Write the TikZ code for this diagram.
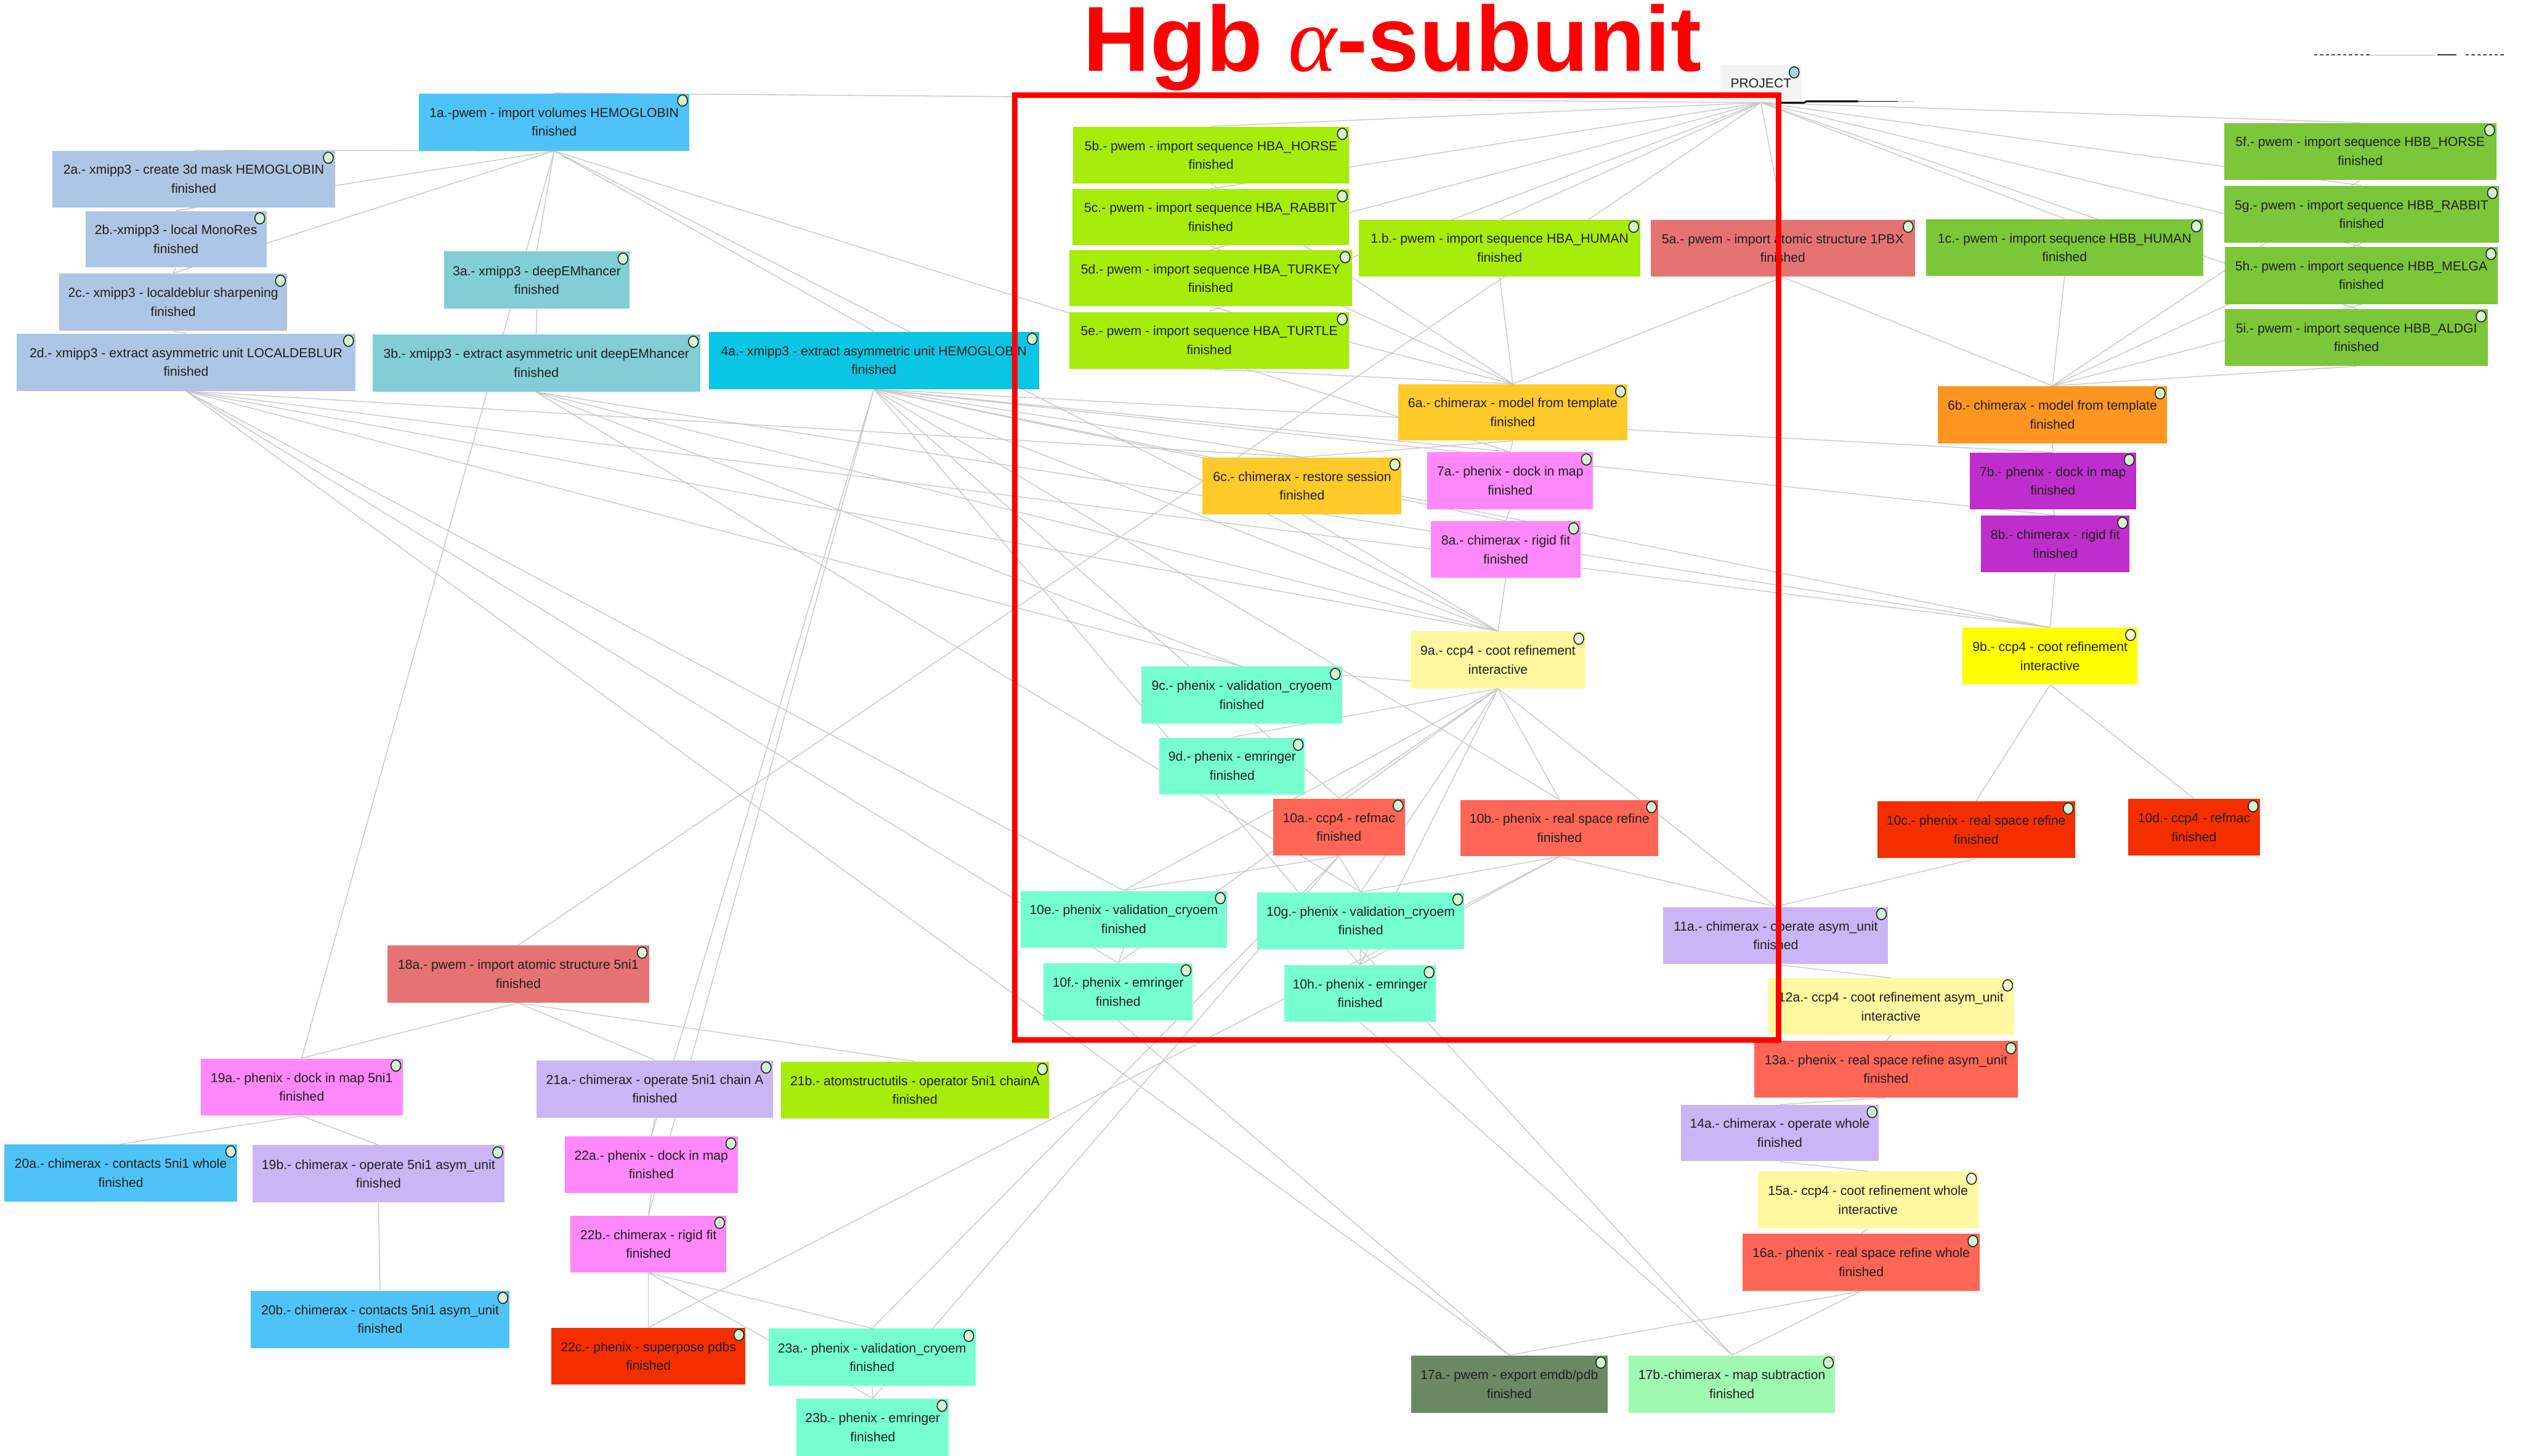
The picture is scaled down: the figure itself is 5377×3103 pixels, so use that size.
\documentclass[tikz,border=0pt]{standalone}
\usepackage{fontspec}
\setmainfont{Liberation Sans}
\newfontfamily\titleserif{Liberation Serif}
\usetikzlibrary{backgrounds,calc,shapes.geometric}

\definecolor{cblue}{HTML}{4FC3F7}
\definecolor{csteel}{HTML}{ADC6E5}
\definecolor{cteal}{HTML}{82CDD6}
\definecolor{ccyan}{HTML}{0AC5E3}
\definecolor{clime}{HTML}{A8EC0B}
\definecolor{csalmon}{HTML}{E57373}
\definecolor{cgreen}{HTML}{7CC63A}
\definecolor{camber}{HTML}{FFCA2A}
\definecolor{corange}{HTML}{FF9620}
\definecolor{cpink}{HTML}{FF88FB}
\definecolor{cpurple}{HTML}{BF2ECC}
\definecolor{cpale}{HTML}{FFF8A0}
\definecolor{cyellow}{HTML}{FFFF00}
\definecolor{caqua}{HTML}{76FFD0}
\definecolor{ctomato}{HTML}{FF6655}
\definecolor{cred}{HTML}{F52E00}
\definecolor{clav}{HTML}{CAB5F5}
\definecolor{colive}{HTML}{6B8A63}
\definecolor{cmint}{HTML}{A0F9B0}
\definecolor{cproj}{HTML}{F4F4F4}
\definecolor{dotfinc}{HTML}{D5F5D1}
\definecolor{dotintc}{HTML}{F3F5DC}
\definecolor{dotprojc}{HTML}{A9D3E3}

\tikzset{
  jobbox/.style={rectangle, inner sep=0pt, align=center,
    font=\fontsize{7.9}{11.4}\selectfont, text=black!88},
  edge/.style={draw=black!22, line width=0.5pt},
  dotbase/.style={ellipse, draw=black!85, line width=0.6pt, inner sep=0pt,
    minimum width=0.21cm, minimum height=0.24cm},
  dotfin/.style={dotbase, fill=dotfinc},
  dotint/.style={dotbase, fill=dotintc},
  dotproj/.style={dotbase, fill=dotprojc},
  frame/.style={draw=red, line width=3.4pt},
}

\newcommand\jobnode[8]{%
  \node[jobbox, fill=#6, minimum width={(#4-#2)*0.01cm}, minimum height={(#5-#3)*0.01cm}]
    (#1) at ({(#2+#4)/2},{(#3+#5)/2}) {#7\\#8};
}

\begin{document}
\begin{tikzpicture}[x=0.01cm,y=-0.01cm]
\useasboundingbox (0,0) rectangle (5377,3103);

% ---- project node
\node[jobbox, fill=cproj, minimum width=1.74cm, minimum height=0.8cm] (proj) at (3753,178) {PROJECT};

% ---- jobs
\jobnode{p1a}{893}{199}{1469}{321}{cblue}{1a.-pwem - import volumes HEMOGLOBIN}{finished}
\jobnode{p2a}{112}{321}{714}{442}{csteel}{2a.- xmipp3 - create 3d mask HEMOGLOBIN}{finished}
\jobnode{p2b}{182}{450}{568}{570}{csteel}{2b.-xmipp3 - local MonoRes}{finished}
\jobnode{p2c}{126}{583}{612}{705}{csteel}{2c.- xmipp3 - localdeblur sharpening}{finished}
\jobnode{p2d}{36}{711}{757}{833}{csteel}{2d.- xmipp3 - extract asymmetric unit LOCALDEBLUR}{finished}
\jobnode{p3a}{946}{536}{1342}{658}{cteal}{3a.- xmipp3 - deepEMhancer}{finished}
\jobnode{p3b}{794}{713}{1492}{835}{cteal}{3b.- xmipp3 - extract asymmetric unit deepEMhancer}{finished}
\jobnode{p4a}{1511}{707}{2214}{829}{ccyan}{4a.- xmipp3 - extract asymmetric unit HEMOGLOBIN}{finished}
\jobnode{p5b}{2287}{270}{2875}{391}{clime}{5b.- pwem - import sequence HBA\_HORSE}{finished}
\jobnode{p5c}{2285}{403}{2875}{523}{clime}{5c.- pwem - import sequence HBA\_RABBIT}{finished}
\jobnode{p5d}{2279}{533}{2881}{653}{clime}{5d.- pwem - import sequence HBA\_TURKEY}{finished}
\jobnode{p5e}{2279}{665}{2875}{786}{clime}{5e.- pwem - import sequence HBA\_TURTLE}{finished}
\jobnode{p1b}{2896}{468}{3496}{589}{clime}{1.b.- pwem - import sequence HBA\_HUMAN}{finished}
\jobnode{p5a}{3518}{468}{4081}{590}{csalmon}{5a.- pwem - import atomic structure 1PBX}{finished}
\jobnode{p1c}{4105}{467}{4695}{588}{cgreen}{1c.- pwem - import sequence HBB\_HUMAN}{finished}
\jobnode{p5f}{4740}{262}{5320}{383}{cgreen}{5f.- pwem - import sequence HBB\_HORSE}{finished}
\jobnode{p5g}{4740}{396}{5326}{517}{cgreen}{5g.- pwem - import sequence HBB\_RABBIT}{finished}
\jobnode{p5h}{4742}{526}{5323}{648}{cgreen}{5h.- pwem - import sequence HBB\_MELGA}{finished}
\jobnode{p5i}{4742}{659}{5302}{780}{cgreen}{5i.- pwem - import sequence HBB\_ALDGI}{finished}
\jobnode{p6a}{2980}{819}{3468}{939}{camber}{6a.- chimerax - model from template}{finished}
\jobnode{p6b}{4130}{823}{4618}{945}{corange}{6b.- chimerax - model from template}{finished}
\jobnode{p6c}{2563}{975}{2987}{1096}{camber}{6c.- chimerax - restore session}{finished}
\jobnode{p7a}{3042}{964}{3395}{1085}{cpink}{7a.- phenix - dock in map}{finished}
\jobnode{p7b}{4198}{965}{4552}{1085}{cpurple}{7b.- phenix - dock in map}{finished}
\jobnode{p8a}{3050}{1111}{3368}{1232}{cpink}{8a.- chimerax - rigid fit}{finished}
\jobnode{p8b}{4222}{1099}{4538}{1220}{cpurple}{8b.- chimerax - rigid fit}{finished}
\jobnode{p9a}{3006}{1346}{3379}{1467}{cpale}{9a.- ccp4 - coot refinement}{interactive}
\jobnode{p9b}{4183}{1338}{4555}{1459}{cyellow}{9b.- ccp4 - coot refinement}{interactive}
\jobnode{p9c}{2433}{1421}{2860}{1542}{caqua}{9c.- phenix - validation\_cryoem}{finished}
\jobnode{p9d}{2471}{1572}{2781}{1693}{caqua}{9d.- phenix - emringer}{finished}
\jobnode{p10a}{2713}{1702}{2994}{1824}{ctomato}{10a.- ccp4 - refmac}{finished}
\jobnode{p10b}{3113}{1705}{3534}{1825}{ctomato}{10b.- phenix - real space refine}{finished}
\jobnode{p10c}{4001}{1708}{4422}{1829}{cred}{10c.- phenix - real space refine}{finished}
\jobnode{p10d}{4536}{1703}{4816}{1824}{cred}{10d.- ccp4 - refmac}{finished}
\jobnode{p10e}{2175}{1899}{2615}{2020}{caqua}{10e.- phenix - validation\_cryoem}{finished}
\jobnode{p10f}{2224}{2053}{2542}{2175}{caqua}{10f.- phenix - emringer}{finished}
\jobnode{p10g}{2679}{1902}{3121}{2023}{caqua}{10g.- phenix - validation\_cryoem}{finished}
\jobnode{p10h}{2737}{2057}{3060}{2178}{caqua}{10h.- phenix - emringer}{finished}
\jobnode{p11a}{3545}{1933}{4024}{2055}{clav}{11a.- chimerax - operate asym\_unit}{finished}
\jobnode{p12a}{3767}{2085}{4293}{2206}{cpale}{12a.- ccp4 - coot refinement asym\_unit}{interactive}
\jobnode{p13a}{3739}{2219}{4300}{2339}{ctomato}{13a.- phenix - real space refine asym\_unit}{finished}
\jobnode{p14a}{3582}{2355}{4004}{2475}{clav}{14a.- chimerax - operate whole}{finished}
\jobnode{p15a}{3746}{2497}{4216}{2618}{cpale}{15a.- ccp4 - coot refinement whole}{interactive}
\jobnode{p16a}{3714}{2630}{4219}{2751}{ctomato}{16a.- phenix - real space refine whole}{finished}
\jobnode{p17a}{3007}{2889}{3426}{3011}{colive}{17a.- pwem - export emdb/pdb}{finished}
\jobnode{p17b}{3471}{2889}{3911}{3011}{cmint}{17b.-chimerax - map subtraction}{finished}
\jobnode{p18a}{826}{2015}{1383}{2137}{csalmon}{18a.- pwem - import atomic structure 5ni1}{finished}
\jobnode{p19a}{428}{2256}{858}{2378}{cpink}{19a.- phenix - dock in map 5ni1}{finished}
\jobnode{p19b}{538}{2441}{1075}{2563}{clav}{19b.- chimerax - operate 5ni1 asym\_unit}{finished}
\jobnode{p20a}{9}{2439}{506}{2561}{cblue}{20a.- chimerax - contacts 5ni1 whole}{finished}
\jobnode{p20b}{534}{2751}{1086}{2873}{cblue}{20b.- chimerax - contacts 5ni1 asym\_unit}{finished}
\jobnode{p21a}{1144}{2260}{1647}{2382}{clav}{21a.- chimerax - operate 5ni1 chain A}{finished}
\jobnode{p21b}{1664}{2263}{2236}{2384}{clime}{21b.- atomstructutils - operator 5ni1 chainA}{finished}
\jobnode{p22a}{1204}{2422}{1572}{2543}{cpink}{22a.- phenix - dock in map}{finished}
\jobnode{p22b}{1216}{2591}{1548}{2712}{cpink}{22b.- chimerax - rigid fit}{finished}
\jobnode{p22c}{1175}{2830}{1589}{2951}{cred}{22c.- phenix - superpose pdbs}{finished}
\jobnode{p23a}{1638}{2832}{2079}{2954}{caqua}{23a.- phenix - validation\_cryoem}{finished}
\jobnode{p23b}{1698}{2981}{2022}{3103}{caqua}{23b.- phenix - emringer}{finished}

% ---- status dots
\node[dotproj] (proj-d) at ($(proj.north east)+(-17,17)$) {};
\foreach \n in {p1a,p2a,p2b,p2c,p2d,p3a,p3b,p4a,p5b,p5c,p5d,p5e,p1b,p5a,p1c,p5f,p5g,p5h,p5i,
  p6a,p6b,p6c,p7a,p7b,p8a,p8b,p9c,p9d,p10a,p10b,p10c,p10d,p10e,p10f,p10g,p10h,p11a,p13a,p14a,
  p16a,p17a,p17b,p18a,p19a,p19b,p20a,p20b,p21a,p21b,p22a,p22b,p22c,p23a,p23b}
  \node[dotfin] (\n-d) at ($(\n.north east)+(-15,16)$) {};
\foreach \n in {p9a,p9b,p12a,p15a}
  \node[dotint] (\n-d) at ($(\n.north east)+(-15,16)$) {};

% ---- connectors (behind the boxes)
\begin{pgfonlayer}{background}
\fill[white] (0,0) rectangle (5377,3103);
\foreach \s/\t in {proj/p1a,proj/p5b,proj/p5c,proj/p5d,proj/p5e,proj/p1b,proj/p5a,proj/p1c,
  proj/p5f,proj/p5g,proj/p5h,proj/p5i,proj/p18a,
  p1a/p2a,p1a/p2b,p1a/p2c,p1a/p3a,p1a/p4a,p1a/p19a,p1a/p7a,p1a/p9a,
  p2a/p2b,p2b/p2c,p2c/p2d,p3a/p3b,
  p2d/p9a,p2d/p9b,p2d/p9c,p2d/p10e,p2d/p10f,p2d/p17a,p2d/p6c,
  p3b/p9a,p3b/p9b,p3b/p9c,p3b/p10g,
  p4a/p6c,p4a/p7a,p4a/p8a,p4a/p9a,p4a/p7b,p4a/p8b,p4a/p9b,p4a/p10a,p4a/p10b,p4a/p22a,p4a/p22b,p4a/p10h,
  p5b/p6a,p5c/p6a,p5d/p6a,p5e/p6a,p1b/p6a,p5a/p6a,
  p5f/p6b,p5g/p6b,p5h/p6b,p5i/p6b,p1c/p6b,p5a/p6b,
  p6a/p7a,p6a/p6c,p7a/p8a,p8a/p9a,p6c/p9a,
  p6b/p7b,p7b/p8b,p8b/p9b,
  p9a/p9c,p9a/p9d,p9a/p10a,p9a/p10b,p9a/p10e,p9a/p10f,p9a/p10g,p9a/p10h,p9a/p11a,
  p9b/p10c,p9b/p10d,
  p10a/p10e,p10a/p10g,p10a/p23a,p10a/p23b,
  p10b/p10g,p10b/p10h,p10b/p11a,p10b/p22c,
  p10e/p10f,p10g/p10h,p10c/p11a,
  p11a/p12a,p12a/p13a,p13a/p14a,p14a/p15a,p15a/p16a,
  p16a/p17a,p16a/p17b,p10f/p17a,p10h/p17b,p10g/p17b,
  p18a/p19a,p18a/p21a,p18a/p21b,p19a/p20a,p19a/p19b,p19b/p20b,
  p21a/p22a,p22a/p22b,p22b/p22c,p22b/p23a,p22b/p23b,p23a/p23b}
  \draw[edge] (\s.south) -- (\t.north);
\end{pgfonlayer}

% ---- stray marks near the project node and top right
\draw[black, line width=1.1pt] (3790,219) -- (3845,219) -- (3850,216) -- (3960,216);
\draw[black, line width=0.4pt] (3960,216) -- (4045,216);
\draw[black!25, line width=0.4pt] (4045,216) -- (4080,216);
\draw[black!70, line width=0.5pt, dash pattern=on 2pt off 1.5pt] (4932,117) -- (5050,117);
\draw[black!30, line width=0.3pt] (5050,117) -- (5190,117);
\draw[black!80, line width=0.7pt] (5195,117) -- (5235,117);
\draw[black!70, line width=0.5pt, dash pattern=on 2pt off 1.5pt] (5255,117) -- (5340,117);

% ---- red frame and title
\draw[frame] (2163,203) rectangle (3790,2217);
\node[anchor=base west, inner sep=0pt, text=red, font=\fontsize{56}{56}\selectfont\bfseries]
  (title) at (2308,152) {Hgb {\titleserif\mdseries\itshape α}-subunit};
\end{tikzpicture}
\end{document}
